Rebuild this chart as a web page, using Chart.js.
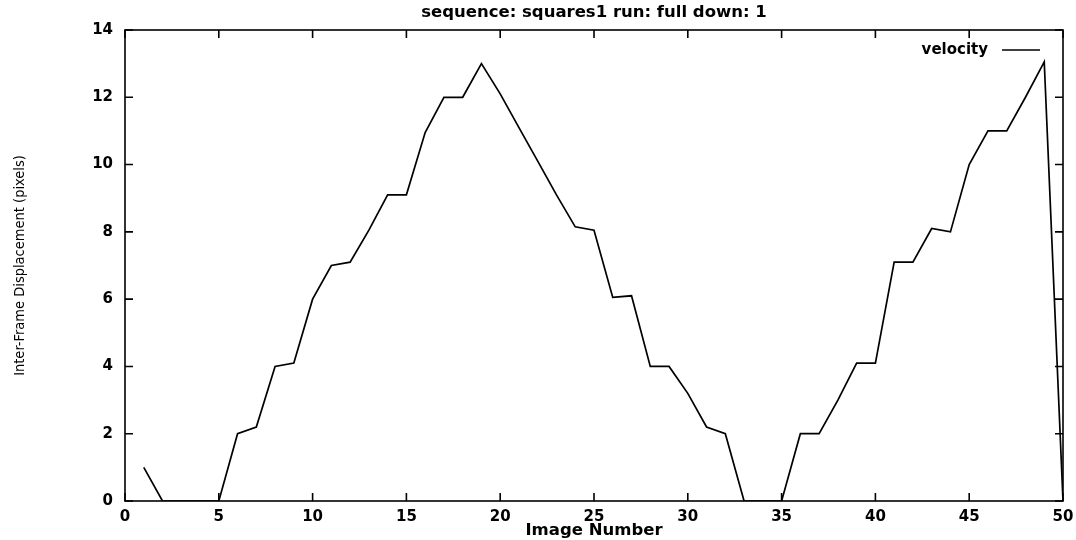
<!DOCTYPE html>
<html lang="en">

<head>
    <meta charset="UTF-8">
    <title>sequence: squares1 run: full down: 1</title>
    <script src="https://cdn.jsdelivr.net/npm/chart.js"></script>
    <style>
        html, body { margin: 0; padding: 0; background: #fff; }
        #wrap { width: 1076px; height: 540px; }
    </style>
</head>

<body>
    <div id="wrap"><canvas id="velocityChart" width="1076" height="540"></canvas></div>
    <script>
        // data
        const imageNumbers = [1, 2, 3, 4, 5, 6, 7, 8, 9, 10,
            11, 12, 13, 14, 15, 16, 17, 18, 19, 20,
            21, 22, 23, 24, 25, 26, 27, 28, 29, 30,
            31, 32, 33, 34, 35, 36, 37, 38, 39, 40,
            41, 42, 43, 44, 45, 46, 47, 48, 49, 50];
        const velocity = [1.0, 0, 0, 0, 0, 2.0, 2.2, 4.0, 4.1, 6.0,
            7.0, 7.1, 8.05, 9.1, 9.1, 10.95, 12.0, 12.0, 13.0, 12.1,
            11.1, 10.1, 9.1, 8.15, 8.05, 6.05, 6.1, 4.0, 4.0, 3.2,
            2.2, 2.0, 0, 0, 0, 2.0, 2.0, 3.0, 4.1, 4.1,
            7.1, 7.1, 8.1, 8.0, 10.0, 11.0, 11.0, 12.0, 13.05, 0];
        const xTicks = [0, 5, 10, 15, 20, 25, 30, 35, 40, 45, 50];
        const yTicks = [0, 2, 4, 6, 8, 10, 12, 14];

        const titleText = 'sequence: squares1 run: full down: 1';
        const seriesName = 'velocity';

        const points = imageNumbers.map((x, i) => ({ x: x, y: velocity[i] }));

        // gnuplot-like frame: box, inward ticks on all sides, title and key
        const gnuFrame = {
            id: 'gnuFrame',
            afterDraw(chart) {
                const c = chart.ctx;
                const a = chart.chartArea;
                const xs = chart.scales.x, ys = chart.scales.y;
                const tl = 8;
                c.save();
                c.strokeStyle = '#000';
                c.lineWidth = 1.6;
                c.strokeRect(a.left, a.top, a.right - a.left, a.bottom - a.top);
                c.beginPath();
                xTicks.forEach(v => {
                    const px = xs.getPixelForValue(v);
                    c.moveTo(px, a.bottom); c.lineTo(px, a.bottom - tl);
                    c.moveTo(px, a.top); c.lineTo(px, a.top + tl);
                });
                yTicks.forEach(v => {
                    const py = ys.getPixelForValue(v);
                    c.moveTo(a.left, py); c.lineTo(a.left + tl, py);
                    c.moveTo(a.right, py); c.lineTo(a.right - tl, py);
                });
                c.stroke();

                // title
                c.fillStyle = '#000';
                c.font = 'bold 16.5px "DejaVu Sans"';
                c.textAlign = 'center';
                c.textBaseline = 'middle';
                c.fillText(titleText, (a.left + a.right) / 2, 13);

                // key
                c.font = 'bold 15px "DejaVu Sans"';
                c.textAlign = 'right';
                c.fillText(seriesName, a.right - 75, a.top + 20);
                c.beginPath();
                c.lineWidth = 1.4;
                c.moveTo(a.right - 61, a.top + 20);
                c.lineTo(a.right - 23, a.top + 20);
                c.stroke();
                c.restore();
            }
        };

        const ctx = document.getElementById('velocityChart').getContext('2d');
        const velocityChart = new Chart(ctx, {
            type: 'line',
            data: {
                datasets: [{
                    label: seriesName,
                    data: points,
                    borderColor: '#000',
                    borderWidth: 1.7,
                    pointRadius: 0,
                    tension: 0,
                    fill: false
                }]
            },
            options: {
                responsive: false,
                animation: false,
                layout: { padding: { top: 30, right: 13, left: 0, bottom: 0 } },
                plugins: {
                    legend: { display: false },
                    title: { display: false },
                    tooltip: { enabled: false }
                },
                scales: {
                    x: {
                        type: 'linear',
                        min: 0,
                        max: 50,
                        afterFit(scale) {
                            scale.height = 39;
                            scale.paddingLeft = 0;
                            scale.paddingRight = 0;
                        },
                        afterBuildTicks(scale) { scale.ticks = xTicks.map(v => ({ value: v })); },
                        grid: { display: false, drawTicks: false },
                        border: { display: false },
                        ticks: {
                            padding: 7,
                            color: '#000',
                            font: { family: 'DejaVu Sans', size: 15, weight: 'bold' },
                            maxRotation: 0
                        },
                        title: {
                            display: true,
                            text: 'Image Number',
                            color: '#000',
                            font: { family: 'DejaVu Sans', size: 16.5, weight: 'bold' },
                            padding: { top: 0, bottom: -1 }
                        }
                    },
                    y: {
                        min: 0,
                        max: 14,
                        afterFit(scale) {
                            scale.width = 125;
                            scale.paddingTop = 0;
                            scale.paddingBottom = 0;
                        },
                        afterBuildTicks(scale) { scale.ticks = yTicks.map(v => ({ value: v })); },
                        grid: { display: false, drawTicks: false },
                        border: { display: false },
                        ticks: {
                            padding: 12,
                            color: '#000',
                            font: { family: 'DejaVu Sans', size: 15, weight: 'bold' }
                        },
                        title: {
                            display: true,
                            text: 'Inter-Frame Displacement (pixels)',
                            color: '#000',
                            font: { family: '"Liberation Sans Narrow", "DejaVu Sans Condensed", sans-serif', size: 14.5 },
                            padding: { top: 12, bottom: 0 }
                        }
                    }
                }
            },
            plugins: [gnuFrame]
        });
    </script>
</body>

</html>
